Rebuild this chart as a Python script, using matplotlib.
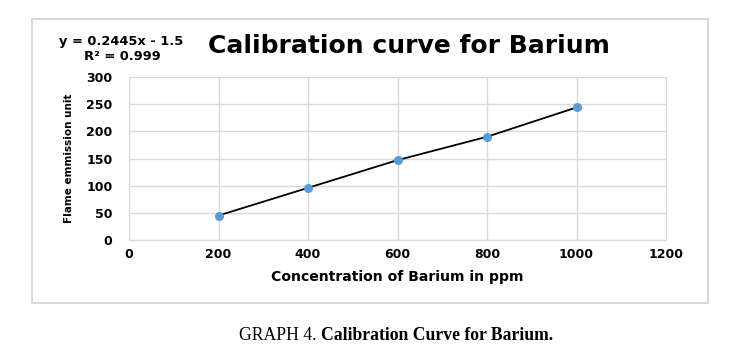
import matplotlib.pyplot as plt
from matplotlib.patches import Rectangle

# 数据
conc = [200, 400, 600, 800, 1000]
emission = [45, 96, 147, 190, 244]
x_ticks = [0, 200, 400, 600, 800, 1000, 1200]
y_ticks = [0, 50, 100, 150, 200, 250, 300]

plt.rcParams['font.family'] = ['DejaVu Sans']
W, H = 738, 362

fig = plt.figure(figsize=(7.38, 3.62), dpi=100)

# 外框
fig.patches.append(Rectangle((32 / W, 1 - 303 / H), (708 - 32) / W, (303 - 19) / H,
                             transform=fig.transFigure, fill=False,
                             edgecolor='#d9d9d9', linewidth=1.5))

ax = fig.add_axes([129 / W, 1 - 240 / H, (666 - 129) / W, (240 - 77) / H])
ax.plot(conc, emission, color='black', linewidth=1.3, zorder=2)
ax.scatter(conc, emission, color='#5b9bd5', s=30, zorder=3)
ax.set_xlim(0, 1200)
ax.set_ylim(0, 300)
ax.set_xticks(x_ticks)
ax.set_yticks(y_ticks)
ax.tick_params(axis='x', length=0, labelsize=9, pad=6)
ax.tick_params(axis='y', length=0, labelsize=9, pad=12)
for lab in ax.get_xticklabels() + ax.get_yticklabels():
    lab.set_fontweight('bold')
ax.grid(True, color='#d9d9d9', linewidth=1)
ax.set_axisbelow(True)
for s in ax.spines.values():
    s.set_color('#d9d9d9')
ax.set_xlabel("Concentration of Barium in ppm", fontsize=10.1, fontweight='bold', labelpad=6)
ax.set_ylabel("Flame emmission unit", fontsize=7.5, fontweight='bold', labelpad=9)

fig.text(409 / W, 1 - 46 / H, "Calibration curve for Barium", fontsize=18,
         fontweight='bold', ha='center', va='center')
fig.text(121 / W, 1 - 42 / H, "y = 0.2445x - 1.5", fontsize=9.4, fontweight='bold',
         ha='center', va='center')
fig.text(122 / W, 1 - 57 / H, "R² = 0.999", fontsize=9.4, fontweight='bold',
         ha='center', va='center')

# 图注
t1 = fig.text(239 / W, 1 - 335 / H, "GRAPH 4. ", fontsize=12.7,
              family='Liberation Serif', ha='left', va='center')
fig.canvas.draw()
bb = t1.get_window_extent()
fig.text(bb.x1 / W, 1 - 335 / H, "Calibration Curve for Barium.", fontsize=12.7,
         family='Liberation Serif', fontweight='bold', ha='left', va='center')

fig.savefig("out.png", dpi=100)
